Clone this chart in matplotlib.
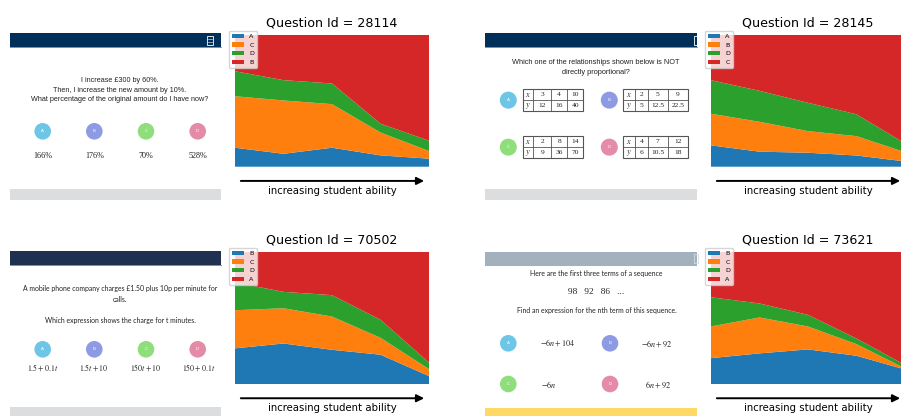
import numpy as np
import matplotlib
matplotlib.use("Agg")
import matplotlib.pyplot as plt
from matplotlib.patches import Rectangle, Circle

plt.rcParams['mathtext.fontset'] = 'stix'

# ---------------- data ----------------
x_pts = [0, 1, 2, 3, 4]

q1_id = 28114
q1_labels = ['A', 'C', 'D', 'B']
q1_A = [0.144, 0.098, 0.144, 0.086, 0.061]
q1_C = [0.391, 0.405, 0.331, 0.174, 0.058]
q1_D = [0.190, 0.154, 0.157, 0.067, 0.078]
q1_B = [0.275, 0.343, 0.368, 0.673, 0.803]

q2_id = 28145
q2_labels = ['A', 'B', 'D', 'C']
q2_A = [0.162, 0.114, 0.106, 0.085, 0.040]
q2_B = [0.240, 0.227, 0.164, 0.147, 0.070]
q2_D = [0.255, 0.235, 0.215, 0.166, 0.067]
q2_C = [0.343, 0.424, 0.515, 0.602, 0.823]

q3_id = 70502
q3_labels = ['B', 'C', 'D', 'A']
q3_B = [0.270, 0.307, 0.259, 0.222, 0.060]
q3_C = [0.289, 0.267, 0.252, 0.128, 0.053]
q3_D = [0.211, 0.124, 0.162, 0.137, 0.049]
q3_A = [0.230, 0.302, 0.327, 0.513, 0.838]

q4_id = 73621
q4_labels = ['B', 'C', 'D', 'A']
q4_B = [0.196, 0.232, 0.262, 0.214, 0.110]
q4_C = [0.240, 0.272, 0.174, 0.088, 0.008]
q4_D = [0.221, 0.106, 0.088, 0.043, 0.026]
q4_A = [0.343, 0.390, 0.476, 0.655, 0.856]

# question texts
q1_text = ["I increase £300 by 60%.",
           "Then, I increase the new amount by 10%.",
           "What percentage of the original amount do I have now?"]
q1_answers = ["166%", "176%", "70%", "528%"]

q2_text = ["Which one of the relationships shown below is NOT",
           "directly proportional?"]
q2_tables = {
    'A': (["3", "4", "10"], ["12", "16", "40"]),
    'B': (["2", "5", "9"], ["5", "12.5", "22.5"]),
    'C': (["2", "8", "14"], ["9", "36", "70"]),
    'D': (["4", "7", "12"], ["6", "10.5", "18"]),
}

q3_text = ["A mobile phone company charges £1.50 plus 10p per minute for",
           "calls.",
           "Which expression shows the charge for t minutes."]
q3_answers = [r"$1.5+0.1t$", r"$1.5t+10$", r"$150t+10$", r"$150+0.1t$"]

q4_text = ["Here are the first three terms of a sequence",
           "98   92   86   ...",
           "Find an expression for the nth term of this sequence."]
q4_answers = [r"$-6n+104$", r"$-6n+92$", r"$-6n$", r"$6n+92$"]

# ---------------- figure ----------------
W, H = 901, 416
fig = plt.figure(figsize=(W / 100, H / 100), dpi=100)
renderer = fig.canvas.get_renderer()

ov = fig.add_axes([0, 0, 1, 1], zorder=0)
ov.set_xlim(0, W)
ov.set_ylim(H, 0)
ov.axis('off')

circ_cols = {'A': '#6EC6E6', 'B': '#8E9AE4', 'C': '#8FDE7B', 'D': '#E48BA8'}
TXT = '#222222'


def fit(x, y, s, width, **kw):
    t = ov.text(x, y, s, fontsize=10, ha='center', va='center', color=TXT, **kw)
    bb = t.get_window_extent(renderer)
    fs = 10 * width / bb.width
    t.set_fontsize(fs)
    return fs


def put(x, y, s, fs, **kw):
    kw.setdefault('color', TXT)
    return ov.text(x, y, s, fontsize=fs, ha='center', va='center', **kw)


def circle(x, y, letter, r=8.3):
    ov.add_patch(Circle((x, y), r, facecolor=circ_cols[letter], edgecolor='none'))
    put(x, y, letter, 3.2, color='white', family='Liberation Sans')


def frame(x0, x1, y0, y1, head_col, foot_col, line_col=None):
    ov.add_patch(Rectangle((x0, y0), x1 - x0, y1 - y0, facecolor='white', edgecolor='none'))
    ov.add_patch(Rectangle((x0, y0), x1 - x0, 14, facecolor=head_col, edgecolor='none'))
    if line_col:
        ov.plot([x0, x1], [y0 + 14.3, y0 + 14.3], color=line_col, lw=0.6)
    ov.add_patch(Rectangle((x0, y1 - 11), x1 - x0, 11, facecolor=foot_col, edgecolor='none'))


def icon(x, y, col='white'):
    ov.add_patch(Rectangle((x, y), 6, 9, facecolor='none', edgecolor=col, lw=0.6))
    ov.plot([x + 1, x + 5], [y + 3, y + 3], color=col, lw=0.4)
    ov.plot([x + 1, x + 5], [y + 6, y + 6], color=col, lw=0.4)


# ---- image 1 ----
frame(10, 221, 33, 200, '#00305A', '#DCDDDF', '#5B7FA3')
icon(207, 35.5)
fs = fit(120, 99.5, q1_text[2], 180, family='Liberation Sans')
put(120, 80, q1_text[0], fs, family='Liberation Sans')
put(120, 90, q1_text[1], fs, family='Liberation Sans')
cx = [42.7, 94.3, 146, 197.7]
fsa = fit(cx[0], 156, q1_answers[0], 19, family='Liberation Serif')
for i, L in enumerate('ABCD'):
    circle(cx[i], 131.3, L)
    if i:
        put(cx[i], 156, q1_answers[i], fsa, family='Liberation Serif')

# ---- image 2 ----
frame(485, 697, 33, 200, '#00305A', '#DCDDDF', '#5B7FA3')
ov.add_patch(Rectangle((693.5, 35.5), 4, 9, facecolor='none', edgecolor='white', lw=0.6))
fs = fit(596, 62, q2_text[0], 170, family='Liberation Sans')
put(596, 73, q2_text[1], fs, family='Liberation Sans')

tabA_x = [522.7, 533.3, 551, 567.3, 583.3]
tabB_x = [623.3, 635, 647.7, 667.7, 688.3]


def table(xs, y0, y1, rows, letter, cxl):
    ym = (y0 + y1) / 2
    ov.add_patch(Rectangle((xs[0], y0), xs[-1] - xs[0], y1 - y0, facecolor='white',
                           edgecolor='#555555', lw=0.8))
    ov.plot([xs[0], xs[-1]], [ym, ym], color='#555555', lw=0.6)
    for xv in xs[1:-1]:
        ov.plot([xv, xv], [y0, y1], color='#555555', lw=0.6)
    heads = [r'$x$', r'$y$']
    for r, row in enumerate(rows):
        yc = (y0 + ym) / 2 if r == 0 else (ym + y1) / 2
        put((xs[0] + xs[1]) / 2, yc, heads[r], 6.0)
        for c, v in enumerate(row):
            put((xs[c + 1] + xs[c + 2]) / 2, yc, v, 5.4, family='Liberation Serif')
    circle(cxl, ym, letter, r=8.5)


table(tabA_x, 89, 111.3, q2_tables['A'], 'A', 508.3)
table(tabB_x, 89, 111.3, q2_tables['B'], 'B', 609.3)
table(tabA_x, 136.3, 158, q2_tables['C'], 'C', 508.3)
table(tabB_x, 136.3, 158, q2_tables['D'], 'D', 609.3)

# ---- image 3 ----
frame(10, 221, 251, 418.3, '#1F3050', '#DCDDDF', '#6A7A95')
fs = fit(120.2, 288.7, q3_text[0], 193.7, family='Lato')
put(120.2, 299, q3_text[1], fs, family='Lato')
put(120.5, 320.3, q3_text[2], fs, family='Lato')
ans3_x = [43, 93.7, 145.5, 199]
fsa = fit(ans3_x[0], 367.3, q3_answers[0], 30.7)
for i, L in enumerate('ABCD'):
    circle(cx[i], 349.3, L)
    if i:
        put(ans3_x[i], 367.3, q3_answers[i], fsa)

# ---- image 4 ----
frame(485, 697, 251.5, 418.7, '#A3B0BE', '#FFD966')
ov.add_patch(Rectangle((693.5, 253.5), 4, 9, facecolor='none', edgecolor='#D5DCE3', lw=0.6))
fs = fit(596.5, 310, q4_text[2], 160, family='Lato')
put(596.5, 273.3, q4_text[0], fs, family='Lato')
fit(596.2, 291.7, q4_text[1], 55.7, family='Liberation Serif')
circle(508.3, 343.3, 'A')
circle(610, 343.3, 'B')
circle(508.3, 384, 'C')
circle(610, 384, 'D')
fsa = fit(557.5, 343, q4_answers[0], 35)
put(656.8, 344, q4_answers[1], fsa)
put(549.2, 384.7, q4_answers[2], fsa)
put(657.8, 385, q4_answers[3], fsa)


# ---------------- area charts ----------------
def px_axes(x0, x1, y0, y1):
    return fig.add_axes([x0 / W, 1 - y1 / H, (x1 - x0) / W, (y1 - y0) / H], zorder=2)


panels = [
    ((235, 429, 35, 166.7), q1_id, q1_labels, [q1_A, q1_C, q1_D, q1_B]),
    ((711, 905, 35, 166.7), q2_id, q2_labels, [q2_A, q2_B, q2_D, q2_C]),
    ((235, 429, 252, 384), q3_id, q3_labels, [q3_B, q3_C, q3_D, q3_A]),
    ((711, 905, 252, 384), q4_id, q4_labels, [q4_B, q4_C, q4_D, q4_A]),
]

for box, qid, labels, series in panels:
    ax = px_axes(*box)
    ax.stackplot(x_pts, *series, labels=labels)
    ax.set_xlim(x_pts[0], x_pts[-1])
    ax.set_ylim(0, 1)
    ax.axis('off')
    ax.set_title(f"Question Id = {qid}", fontsize=9.1)
    ax.legend(loc='upper left', fontsize=4.6, bbox_to_anchor=(-0.031, 1.03),
              borderaxespad=0)
    ax.annotate('', xy=(0.975, -0.108), xytext=(0.03, -0.108), xycoords='axes fraction',
                arrowprops=dict(arrowstyle='-|>', color='black', lw=1.4,
                                mutation_scale=11, shrinkA=0, shrinkB=0))
    ax.text(0.5, -0.184, 'increasing student ability', ha='center', va='center',
            transform=ax.transAxes, fontsize=7.3)

fig.savefig('out.png', dpi=100)
